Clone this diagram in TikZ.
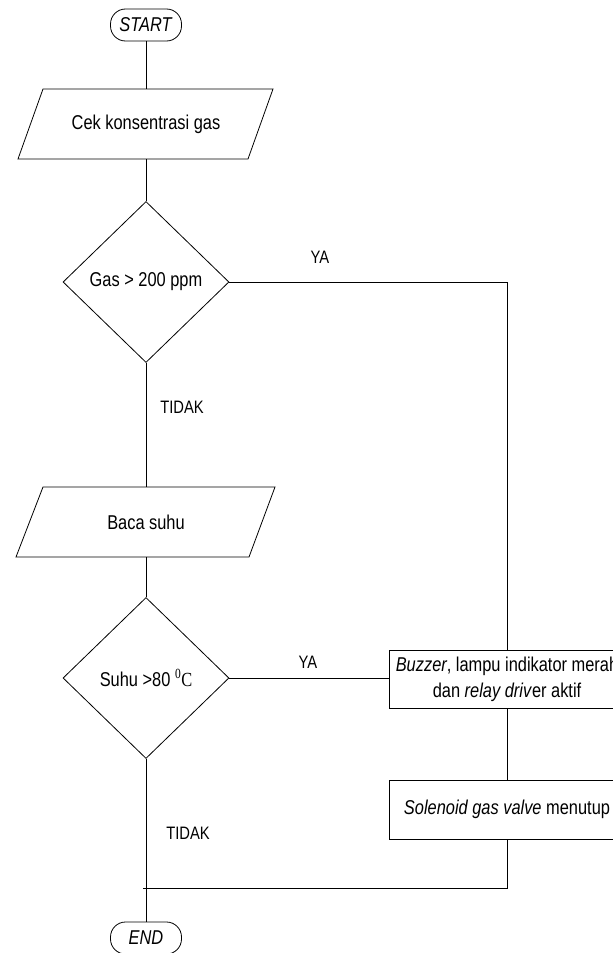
\documentclass[tikz,border=0pt]{standalone}
\usepackage{fontspec}
\setmainfont{Liberation Sans}[FakeStretch=0.82]
\newfontfamily\serifc{Liberation Serif}[FakeStretch=0.82]
\usetikzlibrary{shapes.geometric,calc}
\begin{document}
\begin{tikzpicture}[x=1pt,y=-1pt, line width=0.8pt,
  every node/.style={font=\fontsize{20}{24}\selectfont, inner sep=0pt},
  term/.style={draw, rectangle, rounded corners=15pt, minimum width=71pt, minimum height=32pt},
  io/.style={rectangle, minimum width=230pt, minimum height=70pt},
  dec/.style={draw, diamond, minimum width=166pt, minimum height=161pt},
  proc/.style={draw, rectangle, minimum width=236pt},
  lbl/.style={font=\fontsize{18}{22}\selectfont}]
\useasboundingbox (0,0) rectangle (613,953);
\clip (0,0) rectangle (613,953);
\node[term] (start) at (146,25) {\textit{START}};
\node[io] (p1) at (146,124) {Cek konsentrasi gas};
\draw ($(p1.center)+(-103,-35)$) -- ($(p1.center)+(127,-35)$) -- ($(p1.center)+(102,35)$) -- ($(p1.center)+(-128,35)$) -- cycle;
\node[dec] (d1) at (146,282) {Gas > 200 ppm};
\node[io] (p2) at (146,522) {Baca suhu};
\draw ($(p2.center)+(-103,-35)$) -- ($(p2.center)+(129,-35)$) -- ($(p2.center)+(103,35)$) -- ($(p2.center)+(-130,35)$) -- cycle;
\node[dec] (d2) at (146,678) {Suhu >80 {\serifc\textsuperscript{0}C}};
\node[proc, minimum height=58pt, align=center, font=\fontsize{20}{26}\selectfont] (buzz) at (507,679)
  {\textit{Buzzer}, lampu indikator merah\\dan \textit{relay driv}er aktif};
\node[proc, minimum height=59pt] (sol) at (507,809.5) {\textit{Solenoid gas valve} menutup};
\node[term] (end) at (146,938) {\textit{END}};
\coordinate (j) at (143,888);
\draw (start) -- (p1);
\draw (p1) -- (d1);
\draw (d1.east) -| (buzz.north);
\draw (d1.south) -- (p2.north);
\draw (p2.south) -- (d2.north);
\draw (d2.east) -- (d2.east -| buzz.west);
\draw (buzz.south) -- (sol.north);
\draw (d2.south) -- (end.north);
\draw (sol.south) |- (j);
\node[lbl] (ya1) at (320,257) {YA};
\node[lbl] (tidak1) at (182,407) {TIDAK};
\node[lbl] (ya2) at (308,662) {YA};
\node[lbl] (tidak2) at (188,833) {TIDAK};
\end{tikzpicture}
\end{document}
